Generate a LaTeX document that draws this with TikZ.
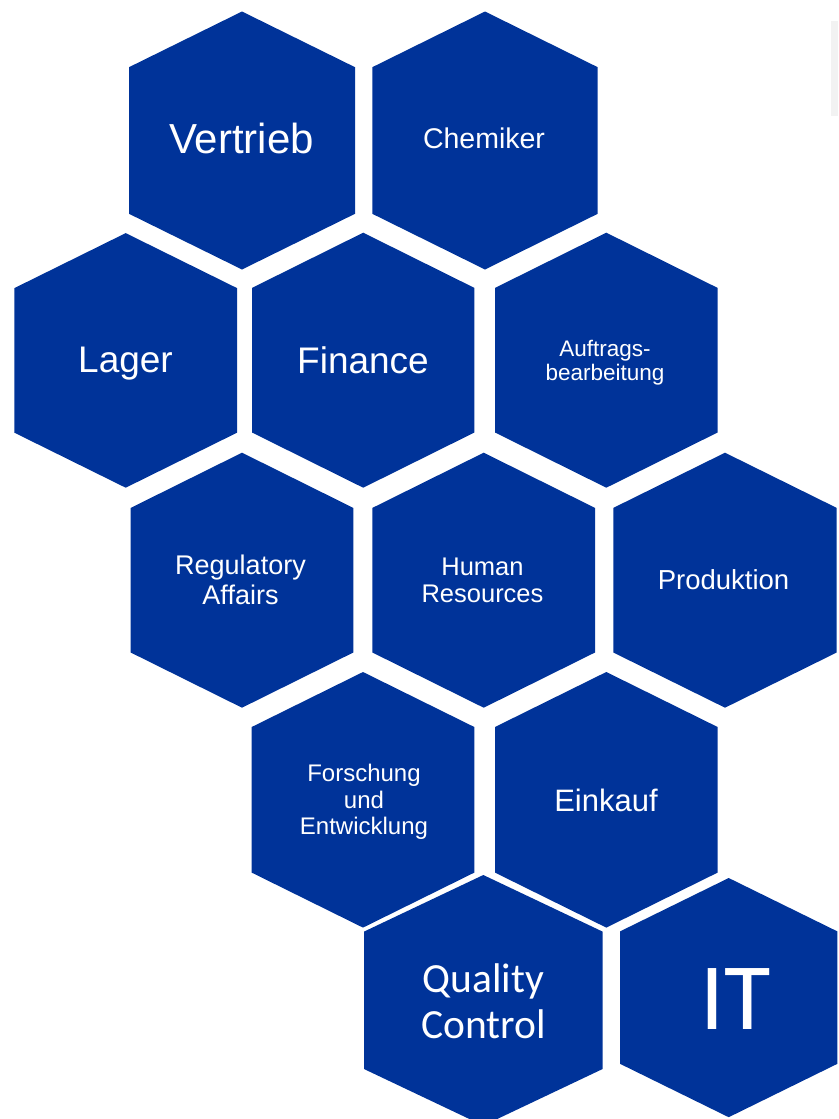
\documentclass[tikz,border=0pt]{standalone}
\usepackage{fontspec}
\setmainfont{Liberation Sans}
\newfontfamily\calibrifont{Carlito}
\definecolor{hexblue}{RGB}{0,51,153}
\definecolor{boxgray}{RGB}{242,242,242}
\newcommand{\hexagon}[6]{% cx, cy, half width, half height, shoulder offset, name
  \fill[hexfill] (#1,#2-#4) coordinate (#6-n) -- (#1+#3,#2-#5) -- (#1+#3,#2+#5) -- (#1,#2+#4) coordinate (#6-s) -- (#1-#3,#2+#5) -- (#1-#3,#2-#5) -- cycle;
  \coordinate (#6) at (#1,#2);}
\tikzset{
  hexfill/.style={fill=hexblue},
  hextext/.style={text=white, align=center, inner sep=0pt, anchor=center},
}
\newcommand{\fs}[2]{\fontsize{#1}{#2}\selectfont}
\begin{document}
\begin{tikzpicture}[x=1pt,y=-1pt]
\useasboundingbox (0,0) rectangle (838,1119);
\fill[boxgray] (831,21) rectangle (838,116);
% hexagons
\hexagon{242}{140.5}{113}{129}{73.3}{h1}
\hexagon{485}{140.5}{112.7}{129}{73.3}{h2}
\hexagon{125.7}{360.4}{111.3}{127.3}{72.3}{h3}
\hexagon{363.2}{360.2}{111.2}{127.5}{72.3}{h4}
\hexagon{606.3}{360.2}{111.3}{127.5}{72.3}{h5}
\hexagon{242}{580.2}{111.3}{127.5}{72.3}{h6}
\hexagon{483.7}{580.2}{111.3}{127.5}{72.3}{h7}
\hexagon{725}{580.2}{111.7}{127.5}{72.3}{h8}
\hexagon{363}{799.8}{111.3}{127.8}{72.8}{h9}
\hexagon{606.3}{799.8}{111.3}{127.8}{72.8}{h10}
\hexagon{483.3}{1000.3}{119.3}{125.3}{68.7}{h11}
\hexagon{728.7}{997.6}{108.7}{119.6}{66.2}{h12}
% labels
\node[hextext, font=\fs{42}{48}] (t1) at (241.5,138) {Vertrieb};
\node[hextext, font=\fs{28.5}{33}] (t2) at (484,138.5) {Chemiker};
\node[hextext, font=\fs{37}{42}] (t3) at (125.5,364) {Lager};
\node[hextext, font=\fs{37}{42}] (t4) at (363,360) {Finance};
\node[hextext, font=\fs{22.5}{24.3}] (t5) at (605,362.5) {Auftrags-\\bearbeitung};
\node[hextext, font=\fs{27}{30}] (t6) at (240.5,580) {Regulatory\\Affairs};
\node[hextext, font=\fs{25.5}{27.3}] (t7) at (482.5,580) {Human\\Resources};
\node[hextext, font=\fs{27.5}{32}] (t8) at (723.5,580) {Produktion};
\node[hextext, font=\fs{24}{26.3}] (t9) at (364,802) {Forschung\\und\\Entwicklung};
\node[hextext, font=\fs{31}{36}] (t10) at (606,800) {Einkauf};
\node[hextext, font=\calibrifont\fs{41.5}{46.5}] (t11) at (483.5,1001) {Quality\\Control};
\node[hextext, font=\calibrifont\fs{95}{110}] (t12) at (735.5,999) {IT};
\end{tikzpicture}
\end{document}
